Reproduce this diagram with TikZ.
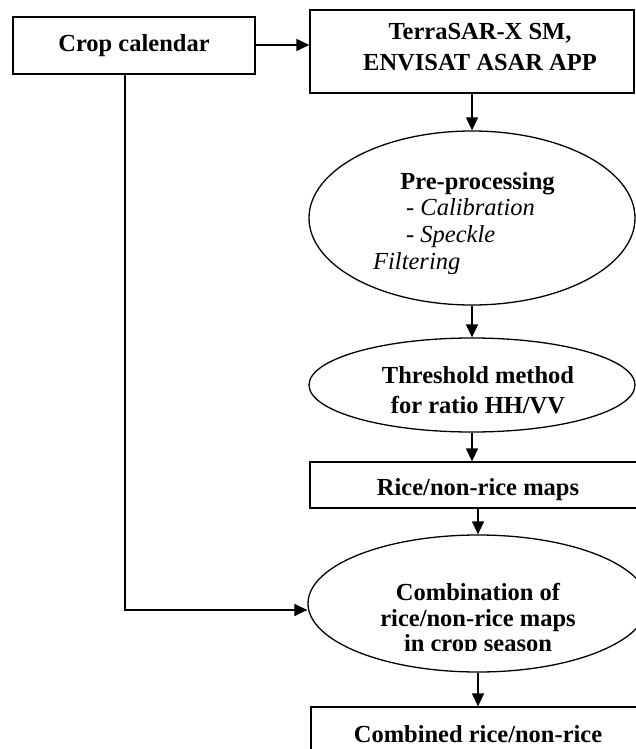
\documentclass[tikz,border=0pt]{standalone}
\usepackage{fontspec}
\setmainfont{Liberation Serif}
\usetikzlibrary{shapes.geometric,arrows.meta,calc}

\begin{document}
\begin{tikzpicture}[x=1pt,y=-1pt,
  box/.style={draw,line width=1.3pt,rectangle,inner sep=0pt},
  oval/.style={draw,line width=1.3pt,ellipse,inner sep=0pt},
  txt/.style={inner sep=0pt,font=\fontsize{24.5}{29}\selectfont\bfseries},
  itxt/.style={inner sep=0pt,font=\fontsize{24.5}{29}\selectfont\itshape},
  arr/.style={line width=1.3pt,-{Triangle[length=13pt,width=12pt]}}]

\useasboundingbox[fill=white] (0,0) rectangle (636,749);

% outlines of the flow chart steps
\node[box,minimum width=242pt,minimum height=57pt] (crop) at (134,45.5) {};
\node[box,minimum width=324pt,minimum height=83pt] (sar) at (472,51.5) {};
\node[oval,minimum width=326pt,minimum height=174pt] (pre) at (472,218) {};
\node[oval,minimum width=326pt,minimum height=94pt] (thr) at (472,385) {};
\node[box,minimum width=336pt,minimum height=46pt] (rice) at (478,485) {};
\node[oval,minimum width=340pt,minimum height=137pt] (comb) at (478,603.5) {};
\node[box,minimum width=334pt,minimum height=90pt] (final) at (478,752) {};

% labels
\node[txt,anchor=base] (cropt) at (134,52) {Crop calendar};
\node[txt,anchor=base] (sar1) at (480,40) {TerraSAR-X SM,};
\node[txt,anchor=base] (sar2) at (480,70.5) {ENVISAT ASAR APP};

\begin{scope}
  \clip (300,120) rectangle (640,273);
  \node[txt,anchor=base] (pre1) at (477.5,189) {Pre-processing};
  \node[itxt,anchor=base west] (pre2) at (406,215.5) {- Calibration};
  \node[itxt,anchor=base west] (pre3) at (406,242) {- Speckle};
  \node[itxt,anchor=base west] (pre4) at (373,269) {Filtering};
\end{scope}

\node[txt,anchor=base] (thr1) at (478,383) {Threshold method};
\node[txt,anchor=base] (thr2) at (478,413) {for ratio HH/VV};
\node[txt,anchor=base] (ricet) at (478,495) {Rice/non-rice maps};

\begin{scope}
  \clip (300,560) rectangle (640,650);
  \node[txt,anchor=base] (comb1) at (478,600) {Combination of};
  \node[txt,anchor=base] (comb2) at (478,626) {rice/non-rice maps};
  \node[txt,anchor=base] (comb3) at (478,651) {in crop season};
\end{scope}

\node[txt,anchor=base] (finalt) at (478,742) {Combined rice/non-rice};

% connectors
\draw[arr] (crop.east |- 0,45) -- (sar.west |- 0,45);
\draw[arr] (sar.south) -- (pre.north);
\draw[arr] (pre.south) -- (thr.north);
\draw[arr] (thr.south) -- (thr.south |- rice.north);
\draw[arr] (rice.south) -- (comb.north);
\draw[arr] (comb.south) -- (final.north);
\coordinate (drop) at (125,0 |- crop.south);
\draw[arr] (drop) |- ($(comb.west)+(0,6.5)$);

\end{tikzpicture}
\end{document}
